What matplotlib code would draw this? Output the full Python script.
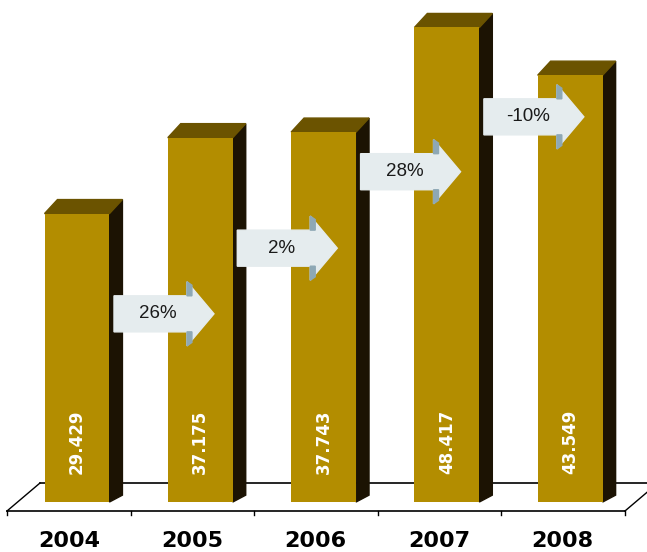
import numpy as np
import matplotlib.pyplot as plt
from matplotlib.patches import Polygon

# Data
years = ['2004', '2005', '2006', '2007', '2008']
values = [29.429, 37.175, 37.743, 48.417, 43.549]
value_labels = ['29.429', '37.175', '37.743', '48.417', '43.549']
growth_labels = ['26%', '2%', '28%', '-10%']
arrow_levels = [19.2, 25.9, 33.7, 39.3]

# Colors
front_color = '#b38d00'
top_color = '#6b5300'
side_color = '#1c1303'
arrow_color = '#e5ecee'
arrow_shade = '#8ea8b5'

fig = plt.figure(figsize=(6.47, 5.52), dpi=100)
ax = fig.add_axes([0, 0, 1, 1])
ax.set_xlim(-0.6245, 4.623)
ax.set_ylim(-5.10, 51.22)
ax.axis('off')

x = np.arange(len(years))
width = 0.527
dx = 0.105    # depth of the bars
dy = 1.43
dy_low = 0.7

# Floor (a flat parallelogram under the bars)
floor_front = -0.92
floor_back = 1.94
ax.plot([-0.568, 4.444], [floor_front, floor_front], color='black', lw=1.2, zorder=1)
ax.plot([-0.300, 4.80], [floor_back, floor_back], color='black', lw=1.2, zorder=1)
ax.plot([-0.568, -0.300], [floor_front, floor_back], color='black', lw=1.0, zorder=1)
ax.plot([4.444, 4.712], [floor_front, floor_back], color='black', lw=1.0, zorder=1)
for k in range(6):
    xt = -0.566 + k * 1.002
    ax.plot([xt, xt], [floor_front, floor_front - 0.41], color='black', lw=1.0, zorder=1)

# Bars: front face with ax.bar, then side and top faces
bars = ax.bar(x, values, width=width, color=front_color, zorder=3)
for b, v in zip(bars, values):
    l = b.get_x()
    r = l + b.get_width()
    side = Polygon([(r, 0), (r, v), (r + dx, v + dy), (r + dx, dy_low)],
                   closed=True, color=side_color, zorder=2)
    top = Polygon([(l, v), (l + dx, v + dy), (r + dx, v + dy), (r, v)],
                  closed=True, color=top_color, zorder=2)
    ax.add_patch(side)
    ax.add_patch(top)

# Values written inside the bars
for xi, lab in zip(x, value_labels):
    ax.text(xi, 6.1, lab, rotation=90, ha='center', va='center', color='white',
            fontsize=12, fontweight='bold', family='DejaVu Sans', zorder=5)

# Year labels
for xi, yr in zip(x, years):
    ax.text(xi - 0.065, -3.98, yr, ha='center', va='center', color='black',
            fontsize=16, fontweight='bold', family='DejaVu Sans', zorder=5)

# Growth arrows between bars
body_len = 0.592
head_len = 0.219
body_h = 1.84
head_h = 3.27
shade_w = 0.04
for i, (lab, yc) in enumerate(zip(growth_labels, arrow_levels)):
    x0 = x[i] + 0.30
    xb = x0 + body_len
    xt = xb + head_len
    pts = [(x0, yc - body_h), (x0, yc + body_h), (xb, yc + body_h), (xb, yc + head_h),
           (xt, yc), (xb, yc - head_h), (xb, yc - body_h)]
    ax.add_patch(Polygon(pts, closed=True, color=arrow_color, zorder=6))
    # darker edge on the head notches
    ax.add_patch(Polygon([(xb, yc + body_h), (xb, yc + head_h), (xb + shade_w, yc + head_h - 0.35),
                          (xb + shade_w, yc + body_h)], closed=True, color=arrow_shade, zorder=7))
    ax.add_patch(Polygon([(xb, yc - body_h), (xb, yc - head_h), (xb + shade_w, yc - head_h + 0.35),
                          (xb + shade_w, yc - body_h)], closed=True, color=arrow_shade, zorder=7))
    ax.text(x0 + 0.357, yc, lab, ha='center', va='center', color='#1a1a1a',
            fontsize=13.5, family='Liberation Sans', zorder=8)

fig.savefig('out.png', dpi=100)
